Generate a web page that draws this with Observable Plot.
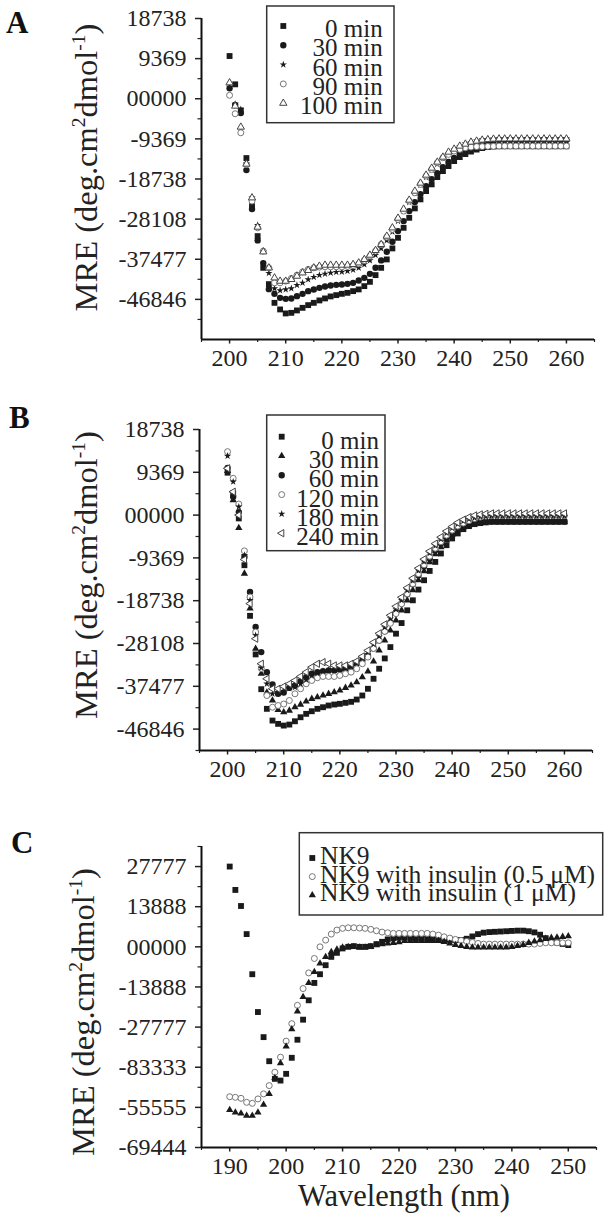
<!DOCTYPE html>
<html><head><meta charset="utf-8">
<script src="https://cdn.jsdelivr.net/npm/d3@7"></script>
<script src="https://cdn.jsdelivr.net/npm/@observablehq/plot@0.6"></script>
<style>
body{margin:0;background:#fff;}
#wrap{position:relative;width:609px;height:1219px;overflow:hidden;background:#fff;}
#wrap > svg{position:absolute;left:0;}
.lg{position:absolute;white-space:nowrap;font-family:'Liberation Serif','Times New Roman',serif;color:#222;overflow:visible;}
</style></head><body><div id="wrap"></div>
<script>
// ---------- wavelength grids ----------
const wavelengthAB = [200,201,202,203,204,205,206,207,208,209,210,211,212,213,214,215,216,217,218,219,220,221,222,223,224,225,226,227,228,229,230,231,232,233,234,235,236,237,238,239,240,241,242,243,244,245,246,247,248,249,250,251,252,253,254,255,256,257,258,259,260];
const wavelengthC = [190,191,192,193,194,195,196,197,198,199,200,201,202,203,204,205,206,207,208,209,210,211,212,213,214,215,216,217,218,219,220,221,222,223,224,225,226,227,228,229,230,231,232,233,234,235,236,237,238,239,240,241,242,243,244,245,246,247,248,249,250];

// ---------- Panel A series ----------
const A_0min = [9975,3364,-2709,-13852,-25065,-32073,-39478,-43286,-47654,-49196,-50130,-49990,-49429,-48822,-48191,-47654,-47094,-46626,-46159,-45855,-45551,-45318,-44921,-44524,-43753,-42748,-41183,-39478,-37516,-34946,-32470,-30134,-27798,-25602,-23500,-21561,-19996,-18290,-16889,-15721,-14553,-13619,-12918,-12334,-11867,-11516,-11283,-11166,-11100,-11100,-11090,-11100,-11100,-11090,-11100,-11100,-11090,-11100,-11100,-11090,-11100];
const A_30min = [2429,-1472,-3340,-16656,-25766,-33079,-38380,-44453,-45551,-46486,-46719,-46626,-46089,-45551,-44921,-44524,-44150,-43823,-43590,-43450,-43356,-43216,-42983,-42422,-41815,-40880,-39478,-37750,-35741,-33405,-30905,-28569,-26233,-24131,-22262,-20393,-18758,-17356,-15955,-14785,-13852,-12918,-11983,-11283,-10815,-10348,-10115,-9881,-9650,-9650,-9640,-9650,-9650,-9640,-9650,-9650,-9640,-9650,-9650,-9640,-9650];
const A_60min = [2733,-1238,-2477,-15020,-23127,-29503,-35577,-40717,-44290,-44757,-44524,-44290,-43520,-42982,-42188,-41651,-41183,-40880,-40646,-40483,-40413,-40249,-39945,-39478,-38684,-37750,-36511,-34946,-33078,-31068,-28569,-26233,-24131,-22029,-20159,-18290,-16655,-15253,-13852,-12684,-11867,-11049,-10465,-10115,-9764,-9530,-9414,-9344,-9300,-9300,-9290,-9300,-9300,-9290,-9300,-9300,-9290,-9300,-9300,-9290,-9300];
const A_90min = [800,-3504,-7943,-15324,-23897,-30135,-35577,-39478,-42982,-42982,-42585,-41954,-41183,-40413,-39852,-39478,-39315,-39245,-39245,-39245,-39245,-39152,-38918,-38544,-37750,-36745,-35577,-34012,-32307,-30508,-28172,-26233,-23897,-21958,-19996,-18057,-16492,-14950,-13782,-12988,-12217,-11820,-11446,-11283,-11166,-11166,-11119,-11096,-11050,-11050,-11040,-11050,-11050,-11040,-11050,-11050,-11040,-11050,-11050,-11040,-11050];
const A_100min = [3738,-1705,-6611,-15253,-23127,-29971,-35740,-39478,-41815,-42585,-42585,-42188,-41417,-40646,-40085,-39478,-39081,-38847,-38847,-38847,-38847,-38847,-38684,-38310,-37516,-36511,-35413,-34012,-32073,-30135,-27868,-25766,-23663,-21561,-19692,-17823,-16188,-14786,-13619,-12451,-11750,-11049,-10582,-10115,-9881,-9647,-9530,-9414,-9370,-9370,-9360,-9370,-9370,-9360,-9370,-9370,-9360,-9370,-9370,-9360,-9370];

// ---------- Panel B series ----------
const B_0min = [9280,4761,-724,-10970,-22050,-30497,-38110,-42410,-44977,-45701,-46074,-45855,-45131,-44253,-43507,-42937,-42410,-42059,-41686,-41467,-41313,-41094,-40874,-40369,-39492,-38022,-35828,-33634,-31374,-28895,-25955,-23629,-20843,-18649,-16301,-14261,-12220,-10246,-8403,-6582,-5112,-4015,-3072,-2413,-1975,-1755,-1602,-1470,-1470,-1470,-1470,-1470,-1470,-1470,-1470,-1470,-1470,-1470,-1470,-1470,-1470];
const B_30min = [9654,3291,-2786,-12791,-20404,-29246,-34731,-38834,-40589,-42630,-43156,-42783,-42059,-41467,-40809,-40216,-39865,-39492,-39119,-38768,-38395,-37803,-37298,-36574,-35477,-34222,-32031,-29619,-27425,-25231,-23037,-20843,-18649,-16455,-14261,-12286,-10312,-8557,-7021,-5485,-4278,-3291,-2633,-2194,-1865,-1645,-1536,-1470,-1470,-1470,-1470,-1470,-1470,-1470,-1470,-1470,-1470,-1470,-1470,-1470,-1470];
const B_60min = [10312,4015,658,-9149,-16828,-24507,-29992,-34380,-37078,-39119,-38834,-37803,-37298,-36354,-35477,-34731,-34380,-34161,-34011,-34011,-33862,-33634,-33283,-32537,-31813,-30716,-29180,-27425,-25450,-23475,-21281,-19307,-17333,-15139,-13164,-11189,-9434,-7679,-6143,-4827,-3840,-2962,-2413,-1975,-1689,-1536,-1426,-1426,-1426,-1426,-1426,-1426,-1426,-1426,-1426,-1426,-1426,-1426,-1426,-1426,-1426];
const B_120min = [13888,8052,2413,-7833,-17925,-25604,-33568,-39492,-42059,-41686,-41357,-40589,-39119,-38022,-36925,-36201,-35609,-35323,-35323,-35323,-35104,-34731,-34380,-33634,-32537,-31080,-29180,-27425,-25450,-23694,-21569,-19417,-17223,-15029,-12835,-10860,-8995,-7240,-5814,-4388,-3291,-2413,-1755,-1207,-768,-439,-219,-110,-110,-110,-110,-110,-110,-110,-110,-110,-110,-110,-110,-110,-110];
const B_180min = [12945,7306,1821,-8776,-18649,-26328,-33415,-36925,-39119,-38768,-38615,-37956,-37671,-36925,-36047,-35104,-34600,-34161,-34011,-33862,-33634,-33283,-32913,-32186,-31221,-29992,-28302,-26547,-24573,-22599,-20624,-18649,-16455,-14371,-12177,-10203,-8337,-6692,-5266,-3949,-2852,-1975,-1316,-878,-592,-395,-285,-219,-219,-219,-219,-219,-219,-219,-219,-219,-219,-219,-219,-219,-219];
const B_240min = [10246,5112,0,-9720,-19373,-27052,-32537,-35828,-38022,-38022,-37518,-36925,-36201,-35323,-34380,-33283,-32537,-32186,-32537,-32910,-32910,-32910,-32537,-31967,-30936,-29620,-27864,-25890,-23915,-21940,-19966,-17991,-15907,-13822,-11628,-9654,-7899,-6253,-4827,-3510,-2523,-1645,-987,-439,-66,154,285,373,373,373,373,373,373,373,373,373,373,373,373,373,373];

// ---------- Panel C series ----------
const C_NK9 = [27777,19686,14131,4409,-9479,-22568,-31248,-39581,-45692,-46282,-43956,-38400,-32150,-25207,-18506,-12499,-9479,-6353,-3472,-2083,-556,0,243,0,0,243,937,1736,2569,3000,3200,3200,3100,3000,2900,2800,2700,2600,2500,2400,2300,2400,2800,3600,4400,4900,5100,5200,5300,5400,5500,5600,5600,5400,5000,4200,3000,2000,1500,1000,600];
const C_ins05 = [-51871,-52080,-52427,-53816,-54163,-52636,-50900,-48017,-43399,-38191,-32636,-26594,-20241,-14444,-9027,-4028,0,2326,4409,5798,6388,6597,6597,6493,6388,6041,5555,5104,4861,4652,4652,4652,4652,4652,4652,4652,4409,4062,3472,3021,2569,2222,1875,1528,1180,937,937,937,937,937,937,937,937,937,937,1180,1389,1389,1389,1389,1389];
const C_ins1 = [-56455,-57288,-57635,-58434,-58434,-57288,-54614,-50900,-45345,-40275,-34478,-28470,-22325,-17360,-12499,-8680,-5763,-3472,-1736,-903,-208,0,0,-208,-208,0,590,937,1180,1389,1632,2083,2083,2083,2083,2083,2083,2083,1736,1180,694,347,0,-208,-208,-208,-208,-208,-208,-208,0,347,694,1389,1875,2326,2778,3125,3240,3472,3715];

// ---------- axes: ticks & labels ----------
const xTicksAB = [200,210,220,230,240,250,260];
const xMinorAB = [195,205,215,225,235,245,255,265];
const xTicksC = [190,200,210,220,230,240,250];
const xMinorC = [185,195,205,215,225,235,245,255];
const yTicksAB = [18738,9369,0,-9369,-18738,-28108,-37477,-46846];
const yLabelsAB = ["18738","9369","00000","-9369","-18738","-28108","-37477","-46846"];
const yMinorAB = [14053,4684,-4684,-14053,-23423,-32792,-42161,-51530];
const yTicksC = [27777,13888,0,-13888,-27777,-41666,-55555,-69444];
const yLabelsC = ["27777","13888","00000","-13888","-27777","-83333","-55555","-69444"];
const yMinorC = [34721,20832,6944,-6944,-20832,-34721,-48610,-62499];

const legendA = ["0 min","30 min","60 min","90 min","100 min"];
const legendB = ["0 min","30 min","60 min","120 min","180 min","240 min"];
const legendC = ["NK9","NK9 with insulin (0.5 \u03bcM)","NK9 with insulin (1 \u03bcM)"];

// ---------- marker styles ----------
const DARK = "#1a1a1a";
const sty = {
  sq:   {symbol:"square",  r:3.3, fill:DARK, stroke:"none", d3t:d3.symbolSquare, size:34},
  ci:   {symbol:"circle",  r:3.2, fill:DARK, stroke:"none", d3t:d3.symbolCircle, size:32},
  st:   {symbol:"star",    r:2.3, fill:DARK, stroke:"none", d3t:d3.symbolStar, size:17},
  oc:   {symbol:"circle",  r:3.0, fill:"white", stroke:"#777", d3t:d3.symbolCircle, size:28},
  ot:   {symbol:"triangle",r:2.7, fill:"white", stroke:"#444", d3t:d3.symbolTriangle, size:23},
  ft:   {symbol:"triangle",r:2.7, fill:DARK, stroke:"none", d3t:d3.symbolTriangle, size:23},
  olt:  {symbol:"triangle",r:2.7, fill:"white", stroke:"#444", rotate:-90, d3t:d3.symbolTriangle, size:23}
};

function rows(wl, vals){ return wl.map((w,i)=>({w, v: vals[i]})); }
function dotMark(wl, vals, s){
  const o = {x:"w", y:"v", symbol:s.symbol, r:s.r, fill:s.fill, stroke:s.stroke, strokeWidth:1};
  if (s.rotate) o.rotate = s.rotate;
  return Plot.dot(rows(wl, vals), o);
}

function panel({top, height, mt, mb, ml, mr, xdom, ydom, xt, xm, yt, yl, ym, series, wl}){
  const lab = new Map(yt.map((v,i)=>[v, yl[i]]));
  const p = Plot.plot({
    width: 609, height, marginTop: mt, marginBottom: mb, marginLeft: ml, marginRight: mr,
    x: {domain: xdom, label: null},
    y: {domain: ydom, label: null},
    style: {fontFamily: "'Liberation Serif', 'Times New Roman', serif", color: "#222", background: "transparent", overflow: "visible"},
    marks: [
      Plot.axisY(yt, {tickSize: 6, tickPadding: 9, fontSize: 24, strokeWidth: 1.5, tickFormat: d => lab.get(d), label: null}),
      Plot.axisY(ym, {tickSize: 3.5, strokeWidth: 1.2, tickFormat: () => "", label: null}),
      Plot.axisX(xt, {tickSize: 4.5, tickPadding: 5, fontSize: 24, strokeWidth: 1.5, tickFormat: d => String(d), label: null}),
      Plot.axisX(xm, {tickSize: 3, strokeWidth: 1.2, tickFormat: () => "", label: null}),
      Plot.ruleX([xdom[0]], {stroke: "#111", strokeWidth: 2}),
      Plot.ruleY([ydom[0]], {stroke: "#111", strokeWidth: 2}),
      ...series.map(([vals, s]) => dotMark(wl, vals, s))
    ]
  });
  p.style.top = top + "px";
  return p;
}

const wrap = document.getElementById("wrap");

wrap.appendChild(panel({top:0, height:400, mt:18, mb:61, ml:201, mr:15,
  xdom:[195,265], ydom:[-56215,18738], xt:xTicksAB, xm:xMinorAB, yt:yTicksAB, yl:yLabelsAB, ym:yMinorAB, wl:wavelengthAB,
  series:[[A_0min,sty.sq],[A_30min,sty.ci],[A_60min,sty.st],[A_90min,sty.oc],[A_100min,sty.ot]]}));

wrap.appendChild(panel({top:400, height:400, mt:29, mb:50, ml:199, mr:17,
  xdom:[195,265], ydom:[-51530,18738], xt:xTicksAB, xm:xMinorAB, yt:yTicksAB, yl:yLabelsAB, ym:yMinorAB, wl:wavelengthAB,
  series:[[B_0min,sty.sq],[B_30min,sty.ft],[B_60min,sty.ci],[B_120min,sty.oc],[B_180min,sty.st],[B_240min,sty.olt]]}));

wrap.appendChild(panel({top:800, height:419, mt:46, mb:72, ml:201, mr:13,
  xdom:[185,255], ydom:[-69444,34721], xt:xTicksC, xm:xMinorC, yt:yTicksC, yl:yLabelsC, ym:yMinorC, wl:wavelengthC,
  series:[[C_NK9,sty.sq],[C_ins05,sty.oc],[C_ins1,sty.ft]]}));

// ---------- overlay: letters, titles, legend boxes ----------
const ov = d3.create("svg").attr("width",609).attr("height",1219)
  .style("position","absolute").style("left","0px").style("top","0px").style("pointer-events","none")
  .attr("font-family","'Liberation Serif', 'Times New Roman', serif").attr("fill","#222");

[["A",6,33],["B",9,428],["C",11,853]].forEach(([t,x,y]) =>
  ov.append("text").attr("x",x).attr("y",y).attr("font-size",31).attr("font-weight","bold").attr("fill","#111").text(t));

function yTitle(bx, cy){
  const t = ov.append("text").attr("transform",`translate(${bx},${cy}) rotate(-90)`).attr("text-anchor","middle").attr("font-size",32.5);
  t.append("tspan").text("MRE (deg.cm");
  t.append("tspan").attr("font-size",19.5).attr("dy",-12.5).text("2");
  t.append("tspan").attr("dy",12.5).text("dmol");
  t.append("tspan").attr("font-size",19.5).attr("dy",-12.5).text("-1");
  t.append("tspan").attr("dy",12.5).text(")");
}
yTitle(97,167.5); yTitle(97,575); yTitle(94,1012);

ov.append("text").attr("x",404).attr("y",1206).attr("text-anchor","middle").attr("font-size",30.5).text("Wavelength (nm)");

wrap.appendChild(ov.node());

// legend: box + symbols in SVG, labels as tight HTML lines
function legend({x,y,w,h,labels,styles,anchor,tx,sx,b0,step,so,fs}){
  const g = ov.append("g").attr("transform",`translate(${x},${y})`);
  g.append("rect").attr("width",w).attr("height",h).attr("fill","white").attr("stroke","#333").attr("stroke-width",1.5);
  labels.forEach((lab,i)=>{
    const s = styles[i], by = b0 + step*i;
    g.append("path").attr("d", d3.symbol(s.d3t, s.size)())
      .attr("transform",`translate(${sx},${by+so}) rotate(${s.rotate||0})`)
      .attr("fill", s.fill).attr("stroke", s.stroke==="none"?null:s.stroke).attr("stroke-width",1);
    const base = y + by;
    const topPx = base - ((step - 1.107*fs)/2 + 0.891*fs);
    const d = document.createElement("div");
    d.className = "lg";
    d.textContent = lab;
    d.style.fontSize = fs + "px";
    d.style.lineHeight = step + "px";
    d.style.height = step + "px";
    d.style.top = topPx + "px";
    if (anchor === "end") { d.style.right = (609 - (x + tx)) + "px"; d.style.textAlign = "right"; }
    else { d.style.left = (x + tx) + "px"; }
    wrap.appendChild(d);
  });
}
legend({x:266.7,y:6,w:127.3,h:116.7,labels:legendA,styles:[sty.sq,sty.ci,sty.st,sty.oc,sty.ot],
  anchor:"end",tx:116,sx:16.6,b0:31,step:19.3,so:-11,fs:25});
legend({x:266.7,y:415,w:118.3,h:135.7,labels:legendB,styles:[sty.sq,sty.ft,sty.ci,sty.oc,sty.st,sty.olt],
  anchor:"end",tx:112.3,sx:15,b0:33.7,step:19.3,so:-12,fs:25});
legend({x:299.3,y:832.7,w:303.4,h:82.3,labels:legendC,styles:[sty.sq,sty.oc,sty.ft],
  anchor:"start",tx:20.7,sx:13,b0:32.3,step:18.6,so:-7,fs:25.5});
</script>
</body></html>
